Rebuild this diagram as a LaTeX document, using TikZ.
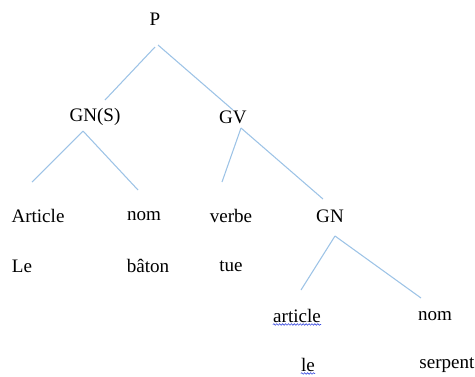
\documentclass[tikz,border=0pt]{standalone}
\usepackage{fontspec}
\setmainfont{Liberation Serif}
\usetikzlibrary{calc,decorations.pathmorphing}
\definecolor{branchblue}{HTML}{9DC3E6}
\definecolor{spellblue}{HTML}{3A4BE0}
\begin{document}
\begin{tikzpicture}[x=0.75pt,y=-0.75pt,
  word/.style={inner sep=0pt,font=\fontsize{14.3}{16}\selectfont},
  branch/.style={draw=branchblue,line width=0.8pt},
  squiggle/.style={draw=spellblue,line width=0.45pt,
    decorate,decoration={snake,segment length=2.2pt,amplitude=0.6pt}}]
\useasboundingbox (0,0) rectangle (475,376);

% labels of the tree
\node[word] (P)       at (155,19)  {P};
\node[word] (GNS)     at (95,117)  {GN(S)};
\node[word] (GV)      at (233,117) {GV};
\node[word] (Art)     at (38,216)  {Article};
\node[word] (nomA)    at (144,216) {nom};
\node[word] (verbe)   at (231,216) {verbe};
\node[word] (GN)      at (330,216) {GN};
\node[word] (Le)      at (22,266)  {Le};
\node[word] (baton)   at (148,266) {bâton};
\node[word] (tue)     at (231,266) {tue};
\node[word] (article) at (297,316) {article};
\node[word] (nomB)    at (435,316) {nom};
\node[word] (le)      at (308,365) {le};
\node[word] (serpent) at (447,365) {serpent};

% branches
\draw[branch] ($(P)+(0,28)$)   -- ($(GNS)+(10,-17)$);
\draw[branch] ($(P)+(3,26)$)   -- ($(GV)+(0,-7)$);
\draw[branch] ($(GNS)+(-12,14)$) -- ($(Art)+(-6,-34)$);
\draw[branch] ($(GNS)+(-12,14)$) -- ($(nomA)+(-6,-26)$);
\draw[branch] ($(GV)+(8,11)$)  -- ($(verbe)+(-9,-34)$);
\draw[branch] ($(GV)+(8,11)$)  -- ($(GN)+(-7,-17)$);
\draw[branch] ($(GN)+(5,20)$)  -- ($(article)+(4,-26)$);
\draw[branch] ($(GN)+(5,20)$)  -- ($(nomB)+(-14,-18)$);

% spell-check underlines
\draw[squiggle] ($(article.south west)+(0,1.5)$) -- ($(article.south east)+(0,1.5)$);
\draw[squiggle] ($(le.south west)+(0,1.5)$) -- ($(le.south east)+(0,1.5)$);
\end{tikzpicture}
\end{document}
